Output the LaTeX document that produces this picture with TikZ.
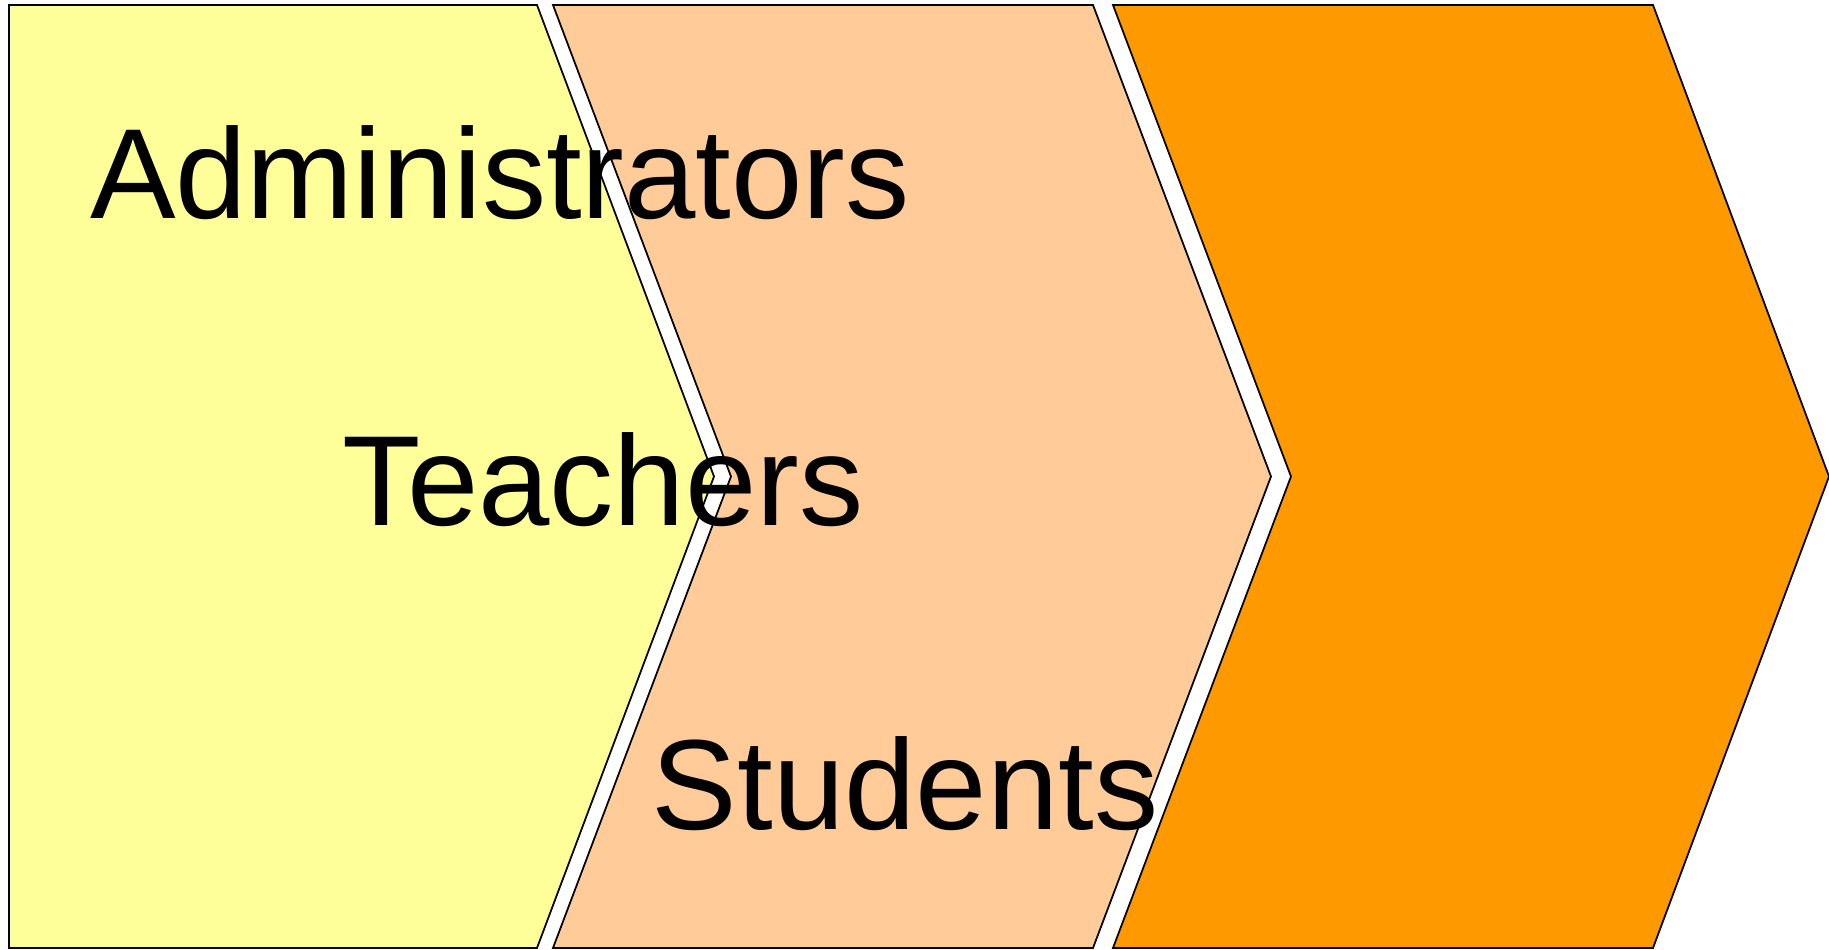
\documentclass[tikz,border=0pt]{standalone}
\usepackage{fontspec}
\setmainfont{Liberation Sans}
\definecolor{paleyellow}{HTML}{FFFF99}
\definecolor{peach}{HTML}{FFCC99}
\definecolor{deeporange}{HTML}{FF9900}
\begin{document}
\begin{tikzpicture}[
		chevron/.style={draw=black, line width=0.5pt, line join=miter},
		roletext/.style={anchor=base, inner sep=0pt, font=\fontsize{36.5}{44}\selectfont}
	]
		\useasboundingbox (0,0) rectangle (18.29,9.49);

		% the three stages
		\filldraw[chevron, fill=paleyellow] (0.09,0.01) -- (0.09,9.44) -- (5.37,9.44) -- (7.14,4.725) -- (5.37,0.01) -- cycle;
		\filldraw[chevron, fill=peach] (5.53,9.44) -- (10.93,9.44) -- (12.71,4.725) -- (10.93,0.01) -- (5.53,0.01) -- (7.31,4.725) -- cycle;
		\filldraw[chevron, fill=deeporange] (11.13,9.44) -- (16.53,9.44) -- (18.29,4.725) -- (16.53,0.01) -- (11.13,0.01) -- (12.91,4.725) -- cycle;

		% labels
		\node[roletext] (admins) at (5.00,7.30) {Administrators};
		\node[roletext] (teachers) at (6.03,4.23) {Teachers};
		\node[roletext] (students) at (9.05,1.19) {Students};
	\end{tikzpicture}
\end{document}
